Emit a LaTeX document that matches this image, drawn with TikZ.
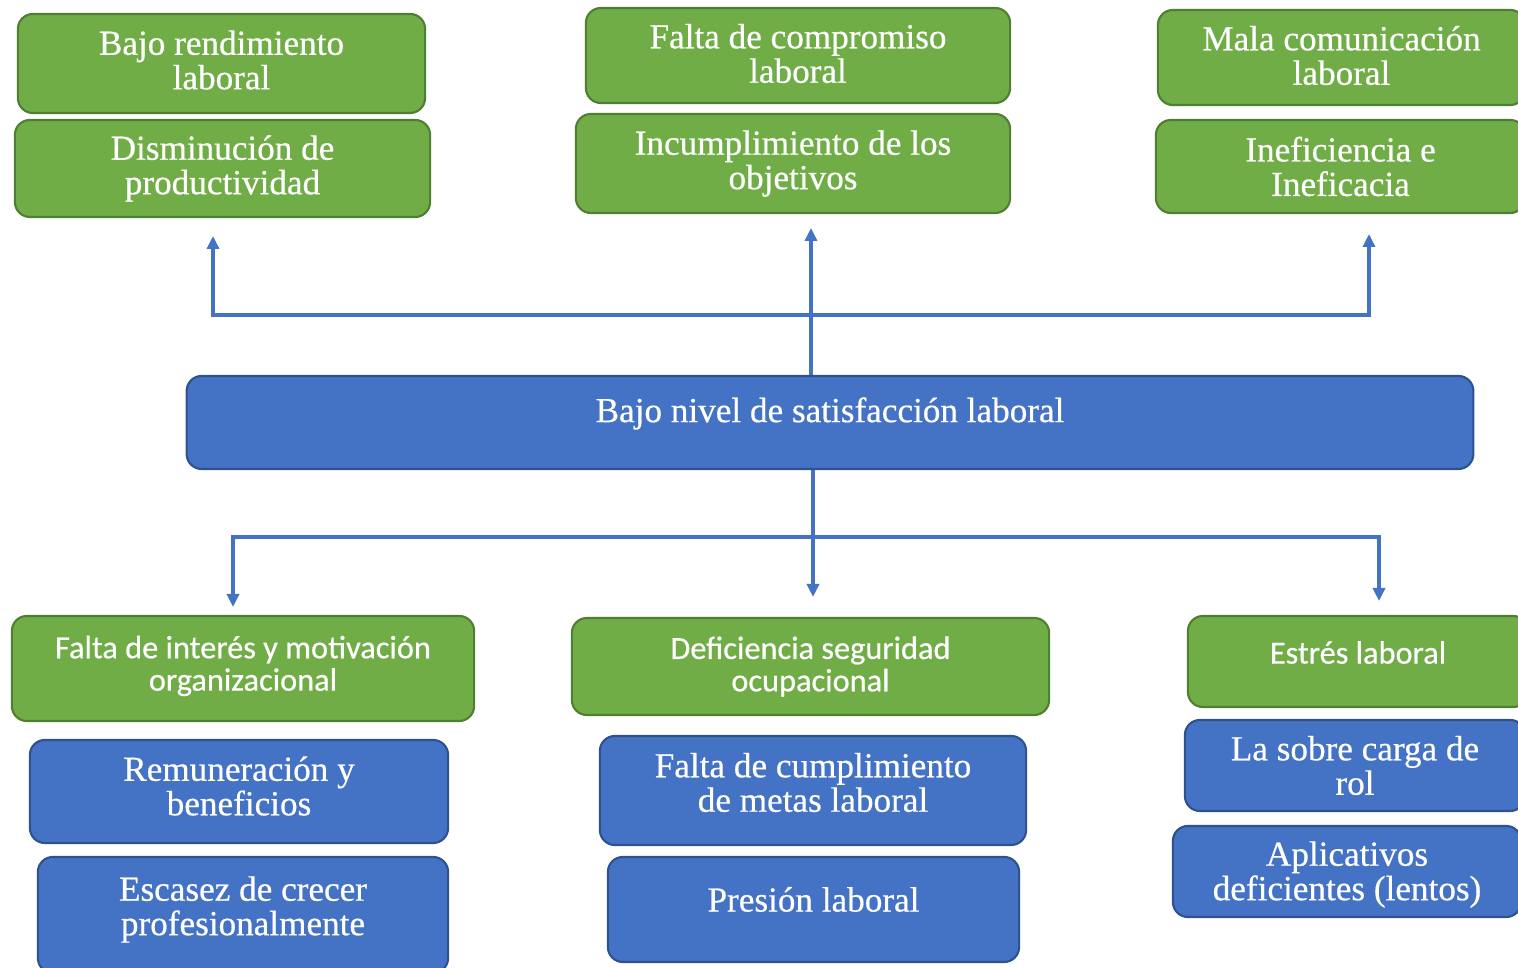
\documentclass[tikz,border=0pt]{standalone}
\usepackage{fontspec}
\setmainfont{Liberation Serif}[FakeBold=0.5]
\newfontfamily\calibri{Carlito}[FakeBold=0.5]
\usetikzlibrary{arrows.meta}
\definecolor{verde}{HTML}{70AD47}
\definecolor{verdeosc}{HTML}{507E32}
\definecolor{azul}{HTML}{4472C4}
\definecolor{azulosc}{HTML}{2F528F}
\tikzset{
	caja/.style={rectangle, rounded corners=0.15cm, line width=0.6pt},
	verdebox/.style={caja, fill=verde, draw=verdeosc},
	azulbox/.style={caja, fill=azul, draw=azulosc},
	txt/.style={text=white, align=center, inner sep=0pt, font=\fontsize{10}{9.8}\selectfont},
	txtsans/.style={txt, font=\calibri\fontsize{9.2}{9.2}\selectfont},
	flecha/.style={draw=azul, line width=1pt, -{Triangle[length=0.13cm,width=0.12cm]}}
}

\begin{document}
\begin{tikzpicture}[x=0.01cm, y=-0.01cm]
				\useasboundingbox (0,0) rectangle (1518,968);
				\clip (0,0) rectangle (1518,968);
				
				\node[verdebox, minimum width=4.07cm, minimum height=0.99cm, label={[txt, yshift=0.035cm]center:Bajo rendimiento\\laboral}] (rend) at (221.5,63.5) {};
				\node[verdebox, minimum width=4.15cm, minimum height=0.97cm, label={[txt]center:Disminución de\\productividad}] (dism) at (222.5,168.5) {};
				\node[verdebox, minimum width=4.24cm, minimum height=0.95cm, label={[txt, yshift=0.02cm]center:Falta de compromiso\\laboral}] (comp) at (798,55.5) {};
				\node[verdebox, minimum width=4.34cm, minimum height=0.99cm, label={[txt]center:Incumplimiento de los\\objetivos}] (incu) at (793,163.5) {};
				\node[verdebox, minimum width=3.67cm, minimum height=0.95cm, label={[txt, yshift=0.02cm]center:Mala comunicación\\laboral}] (mala) at (1341.5,57.5) {};
				\node[verdebox, minimum width=3.69cm, minimum height=0.93cm, label={[txt]center:Ineficiencia e\\Ineficacia}] (inef) at (1340.5,166.5) {};
				
				\node[azulbox, minimum width=12.86cm, minimum height=0.93cm, label={[txt, yshift=0.09cm]center:Bajo nivel de satisfacción laboral}] (centro) at (830,422.5) {};
				
				\node[verdebox, minimum width=4.62cm, minimum height=1.05cm, label={[txtsans, yshift=0.025cm]center:Falta de interés y motivación\\organizacional}] (inter) at (243,668.5) {};
				\node[azulbox, minimum width=4.18cm, minimum height=1.03cm, label={[txt, yshift=0.055cm]center:Remuneración y\\beneficios}] (remu) at (239,791.5) {};
				\node[azulbox, minimum width=4.10cm, minimum height=1.16cm, label={[txt, yshift=0.055cm]center:Escasez de crecer\\profesionalmente}] (esca) at (243,915) {};
				\node[verdebox, minimum width=4.77cm, minimum height=0.97cm, label={[txtsans]center:Deficiencia seguridad\\ocupacional}] (defi) at (810.5,666.5) {};
				\node[azulbox, minimum width=4.26cm, minimum height=1.09cm, label={[txt, yshift=0.08cm]center:Falta de cumplimiento\\de metas laboral}] (cump) at (813,790.5) {};
				\node[azulbox, minimum width=4.11cm, minimum height=1.05cm, label={[txt, yshift=0.1cm]center:Presión laboral}] (pres) at (813.5,909.5) {};
				\node[verdebox, minimum width=3.40cm, minimum height=0.91cm, label={[txtsans, yshift=0.09cm]center:Estrés laboral}] (estr) at (1358,661.5) {};
				\node[azulbox, minimum width=3.40cm, minimum height=0.91cm, label={[txt]center:La sobre carga de\\rol}] (sobre) at (1355,765.5) {};
				\node[azulbox, minimum width=3.48cm, minimum height=0.91cm, label={[txt, yshift=-0.03cm]center:Aplicativos\\deficientes (lentos)}] (apli) at (1347,871.5) {};
				
				\coordinate (tL) at (213,236);
				\coordinate (tC) at (811,228);
				\coordinate (tR) at (1369,234);
				\coordinate (hubA) at (811,315);
				\draw[flecha] (centro.north -| tC) -- (tC);
				\draw[flecha] (hubA) -| (tL);
				\draw[flecha] (hubA) -| (tR);
				
				\coordinate (bL) at (233,607);
				\coordinate (bC) at (813,597);
				\coordinate (bR) at (1379,601);
				\coordinate (hubB) at (813,537);
				\draw[flecha] (centro.south -| bC) -- (bC);
				\draw[flecha] (hubB) -| (bL);
				\draw[flecha] (hubB) -| (bR);
			\end{tikzpicture}
\end{document}
